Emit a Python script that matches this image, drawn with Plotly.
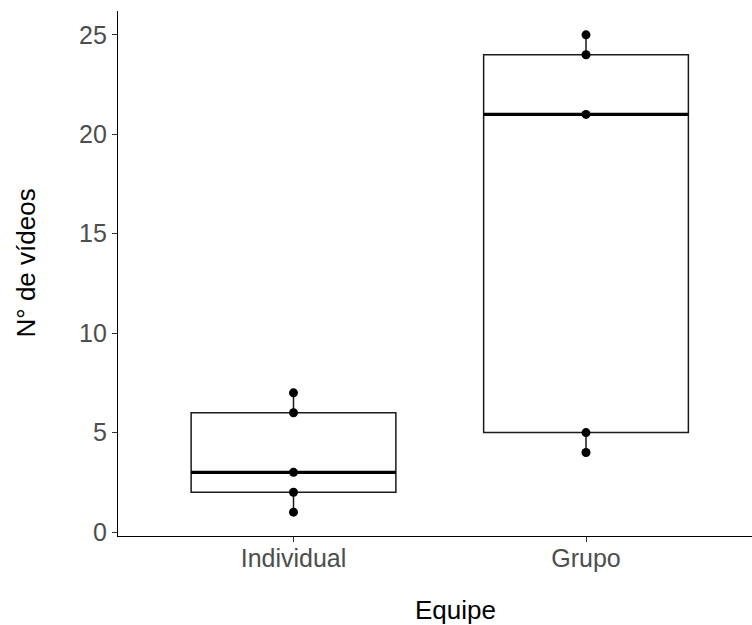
import numpy as np
import plotly.graph_objects as go

# Number of videos per team type
categories = ["Individual", "Grupo"]
individual_videos = [1, 2, 3, 6, 7]
grupo_videos = [4, 5, 21, 24, 25]
series = [individual_videos, grupo_videos]
y_ticks = [0, 5, 10, 15, 20, 25]

positions = [1, 2]
box_width = 0.7

fig = go.Figure()

for pos, vals in zip(positions, series):
    arr = np.array(vals, dtype=float)
    q1, med, q3 = np.percentile(arr, [25, 50, 75])
    iqr = q3 - q1
    lo = arr[arr >= q1 - 1.5 * iqr].min()
    hi = arr[arr <= q3 + 1.5 * iqr].max()
    fig.add_trace(go.Box(
        x=[pos], q1=[q1], median=[med], q3=[q3],
        lowerfence=[lo], upperfence=[hi],
        width=box_width, whiskerwidth=0,
        fillcolor="white", line=dict(color="#1a1a1a", width=1.5),
        boxpoints=False, showlegend=False, hoverinfo="skip",
    ))
    # thicker median bar
    fig.add_trace(go.Scatter(
        x=[pos - box_width / 2, pos + box_width / 2], y=[med, med],
        mode="lines", line=dict(color="black", width=3.2),
        showlegend=False, hoverinfo="skip",
    ))
    fig.add_trace(go.Scatter(
        x=[pos] * len(vals), y=vals, mode="markers",
        marker=dict(color="black", size=9),
        showlegend=False,
    ))

left = 118
W, H = 752, 625
unit = 292.5
x_lo = 0.4
x_hi = x_lo + (W - left) / unit

fig.update_layout(
    width=W, height=H,
    margin=dict(l=left, r=0, t=11, b=625 - 536),
    plot_bgcolor="white", paper_bgcolor="white",
    font=dict(family="Liberation Sans, Arial, sans-serif", color="black"),
    xaxis=dict(
        range=[x_lo, x_hi], tickvals=positions, ticktext=categories,
        showline=True, linecolor="black", linewidth=1.2,
        ticks="outside", ticklen=5, tickcolor="#333333", tickwidth=1.2,
        tickfont=dict(size=25, color="#4d4d4d"), ticklabelstandoff=-5,
        showgrid=False, zeroline=False,
    ),
    yaxis=dict(
        range=[-0.2, 26.2], tickvals=y_ticks,
        showline=True, linecolor="black", linewidth=1.2,
        ticks="outside", ticklen=5, tickcolor="#333333", tickwidth=1.2,
        tickfont=dict(size=25, color="#4d4d4d"),
        showgrid=False, zeroline=False,
    ),
    annotations=[
        dict(
            text="N° de vídeos", textangle=-90, showarrow=False,
            xref="paper", yref="paper", x=0, y=0.5,
            xanchor="center", yanchor="middle", xshift=-93, yshift=10,
            font=dict(size=26, color="black"),
        ),
        dict(
            text="Equipe", showarrow=False,
            xref="paper", yref="paper", x=(455 - left) / (W - left), y=0,
            xanchor="center", yanchor="top", yshift=-57,
            font=dict(size=26, color="black"),
        ),
    ],
)

fig.write_html("out.html")
